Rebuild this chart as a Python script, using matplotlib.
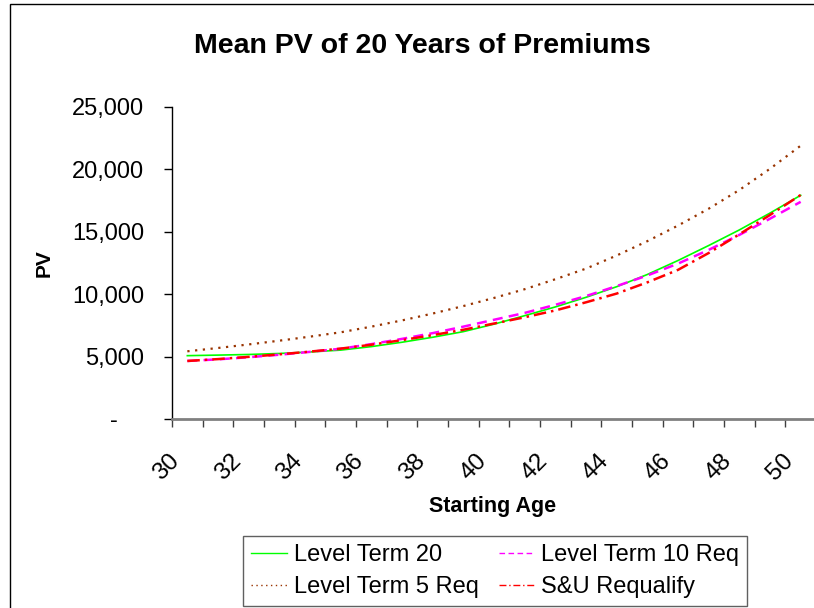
import matplotlib
matplotlib.use("Agg")
import matplotlib.pyplot as plt
import matplotlib.transforms as mtransforms
from matplotlib.patches import Rectangle

plt.rcParams['font.family'] = ['Liberation Sans', 'DejaVu Sans']

# starting ages 30..50
ages = list(range(30, 51))

# mean PV of 20 years of premiums
level_term_20 = [5075, 5120, 5170, 5250, 5370, 5520, 5800, 6150, 6550, 7000,
                 7600, 8280, 8980, 9750, 10600, 11580, 12700, 13900, 15150, 16500, 17925]
level_term_10_req = [4650, 4780, 4950, 5150, 5380, 5630, 6000, 6420, 6880, 7400,
                     7950, 8500, 9150, 9850, 10650, 11500, 12450, 13550, 14750, 16050, 17400]
level_term_5_req = [5425, 5690, 5975, 6275, 6600, 6946, 7400, 7900, 8450, 9050,
                    9700, 10400, 11200, 12050, 13100, 14250, 15500, 16850, 18350, 20050, 21900]
su_requalify = [4650, 4800, 4980, 5180, 5400, 5640, 5950, 6320, 6720, 7150,
                7650, 8150, 8700, 9350, 10050, 10950, 11950, 13300, 14800, 16350, 17950]

y_ticks = [0, 5000, 10000, 15000, 20000, 25000]
y_labels = ['-', '5,000', '10,000', '15,000', '20,000', '25,000']

W, H = 814, 608
fig = plt.figure(figsize=(W / 100, H / 100), dpi=100)
fig.patch.set_facecolor('white')

# outer chart border
fig.add_artist(Rectangle((10 / W, -0.05), 1.1, 1 - 4 / H + 0.05, transform=fig.transFigure,
                         fill=False, edgecolor='black', linewidth=1.0))

ax = fig.add_axes([172 / W, (H - 419) / H, (816 - 172) / W, (419 - 107) / H])
ax.set_facecolor('white')

ax.plot(ages, level_term_20, color='#00FF00', linewidth=1.2, label='Level Term 20')
ax.plot(ages, level_term_10_req, color='#FF00FF', linewidth=1.8, linestyle=(0, (4, 2.5)),
        label='Level Term 10 Req')
ax.plot(ages, level_term_5_req, color='#993300', linewidth=1.6, linestyle=(0, (1, 2.5)),
        label='Level Term 5 Req')
ax.plot(ages, su_requalify, color='#FF0000', linewidth=1.8, linestyle=(0, (5, 2, 1, 2)),
        label='S&U Requalify')

ax.set_xlim(29.5, 50.5)
ax.set_ylim(0, 25000)

ax.set_xticks(ages[::2])
ax.set_xticklabels([str(a) for a in ages[::2]], rotation=45, ha='center', va='top', fontsize=17.5)
ax.set_xticks([a - 0.5 for a in ages] + [50.5], minor=True)
ax.tick_params(axis='x', which='major', length=0, pad=22)
ax.tick_params(axis='x', which='minor', length=6, width=1.0, color='#404040', direction='out')
shift = mtransforms.ScaledTranslation(-0.205, 0, fig.dpi_scale_trans)
for lbl in ax.get_xticklabels():
    lbl.set_transform(lbl.get_transform() + shift)

ax.set_yticks(y_ticks)
ax.set_yticklabels(y_labels, fontsize=17)
ax.tick_params(axis='y', length=6, width=1.0, direction='out', pad=14)

for s in ['top', 'right']:
    ax.spines[s].set_visible(False)
ax.spines['left'].set_color('black')
ax.spines['left'].set_linewidth(1.0)
ax.spines['bottom'].set_color('#808080')
ax.spines['bottom'].set_linewidth(2.0)

# accounting style: the dash for zero sits further left
zero_lbl = ax.get_yticklabels()[0]
zero_lbl.set_transform(zero_lbl.get_transform() +
                       mtransforms.ScaledTranslation(-0.26, 0, fig.dpi_scale_trans))

fig.text(422 / W, 1 - 53 / H, 'Mean PV of 20 Years of Premiums', ha='center', va='baseline',
         fontsize=20.5, fontweight='bold')
fig.text(44 / W, 1 - 263 / H, 'PV', ha='center', va='center', rotation=90,
         fontsize=15, fontweight='bold')
fig.text(493 / W, 1 - 512 / H, 'Starting Age', ha='center', va='baseline',
         fontsize=15.5, fontweight='bold')

handles, labels = ax.get_legend_handles_labels()
order = [0, 2, 1, 3]
leg = fig.legend([handles[i] for i in order], [labels[i] for i in order],
                 loc='upper left', bbox_to_anchor=(243 / W, 1 - 536 / H), ncol=2,
                 fontsize=17, frameon=True, fancybox=False, framealpha=1,
                 edgecolor='#606060', handlelength=1.5, handletextpad=0.3,
                 columnspacing=0.85, borderpad=0.35, labelspacing=0.42, borderaxespad=0)
leg.get_frame().set_linewidth(1.0)
for line in leg.get_lines():
    line.set_linewidth(1.0)

fig.savefig('out.png', dpi=100, facecolor='white')
